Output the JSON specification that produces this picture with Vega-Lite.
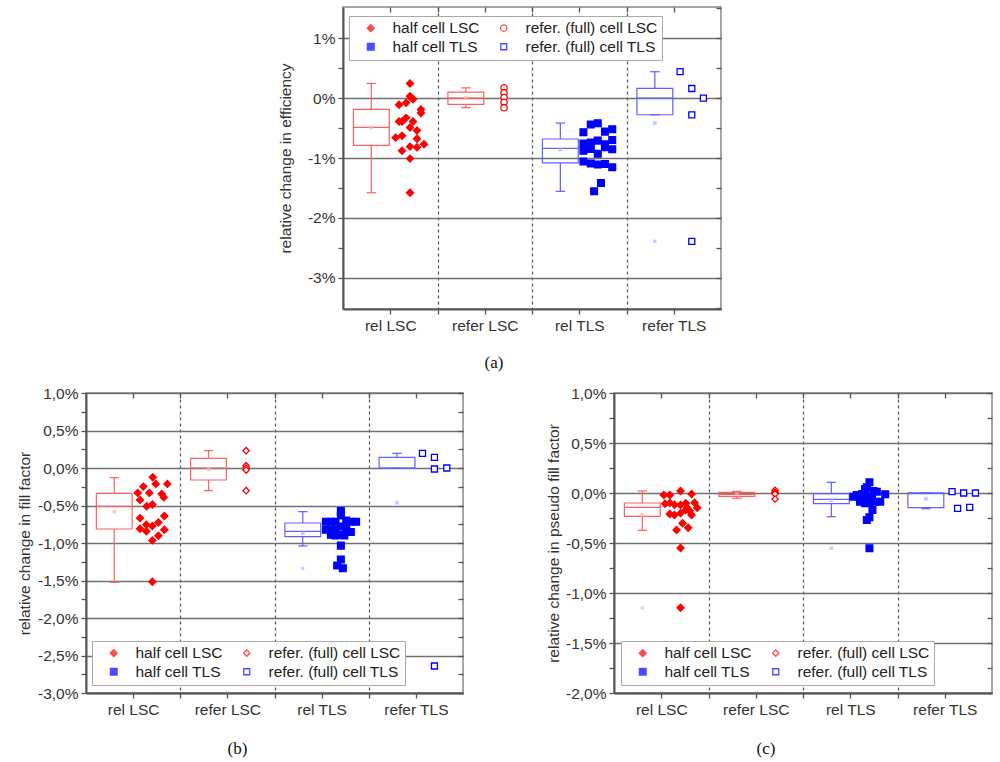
{
"$schema":"https://vega.github.io/schema/vega-lite/v6.json",
"background":"white",
"padding":{"left":16,"top":5,"right":5,"bottom":5},
"config":{
 "font":"Liberation Sans",
 "view":{"stroke":"#888","strokeWidth":1.5},
 "axis":{"labelFont":"Liberation Sans","labelFontSize":15.5,"labelColor":"#333","titleFont":"Liberation Sans","titleFontSize":15.5,"titleFontWeight":"normal","titleColor":"#333","domainColor":"#555","domainWidth":2,"tickColor":"#555","tickWidth":1.3,"gridColor":"#707070","gridWidth":1.3,"labelPadding":4,"tickSize":5,"labelOverlap":false,"labelFlush":false},
 "legend":{"labelFont":"Liberation Sans","labelFontSize":15.5,"labelColor":"#222","symbolSize":36,"symbolStrokeWidth":1.3,"strokeColor":"#aaa","fillColor":"white","padding":4,"columnPadding":6,"rowPadding":2,"labelOffset":14,"symbolOffset":10,"labelLimit":300},
 "title":{"font":"Liberation Serif","fontSize":17,"fontWeight":"normal","color":"#111"}
},
"datasets":{
"pts":[
{"p":"a","s":"hL","j":0.709,"v":0.244},{"p":"a","s":"hL","j":0.709,"v":0.03},{"p":"a","s":"hL","j":0.741,"v":-0.02},{"p":"a","s":"hL","j":0.72,"v":0.01},{"p":"a","s":"hL","j":0.593,"v":-0.11},{"p":"a","s":"hL","j":0.667,"v":-0.08},{"p":"a","s":"hL","j":0.825,"v":-0.19},{"p":"a","s":"hL","j":0.825,"v":-0.25},{"p":"a","s":"hL","j":0.593,"v":-0.39},{"p":"a","s":"hL","j":0.625,"v":-0.39},{"p":"a","s":"hL","j":0.667,"v":-0.33},{"p":"a","s":"hL","j":0.741,"v":-0.39},{"p":"a","s":"hL","j":0.709,"v":-0.49},{"p":"a","s":"hL","j":0.783,"v":-0.54},{"p":"a","s":"hL","j":0.557,"v":-0.66},{"p":"a","s":"hL","j":0.625,"v":-0.63},{"p":"a","s":"hL","j":0.783,"v":-0.68},{"p":"a","s":"hL","j":0.857,"v":-0.77},{"p":"a","s":"hL","j":0.625,"v":-0.88},{"p":"a","s":"hL","j":0.709,"v":-0.81},{"p":"a","s":"hL","j":0.783,"v":-0.82},{"p":"a","s":"hL","j":0.709,"v":-1.01},{"p":"a","s":"hL","j":0.709,"v":-1.58},
{"p":"a","s":"rL","j":0.704,"v":0.17},{"p":"a","s":"rL","j":0.704,"v":0.09},{"p":"a","s":"rL","j":0.704,"v":0.01},{"p":"a","s":"rL","j":0.704,"v":-0.07},{"p":"a","s":"rL","j":0.704,"v":-0.16},
{"p":"a","s":"hT","j":0.544,"v":-0.57},{"p":"a","s":"hT","j":0.622,"v":-0.44},{"p":"a","s":"hT","j":0.696,"v":-0.42},{"p":"a","s":"hT","j":0.772,"v":-0.56},{"p":"a","s":"hT","j":0.849,"v":-0.52},{"p":"a","s":"hT","j":0.544,"v":-0.76},{"p":"a","s":"hT","j":0.622,"v":-0.74},{"p":"a","s":"hT","j":0.696,"v":-0.71},{"p":"a","s":"hT","j":0.772,"v":-0.77},{"p":"a","s":"hT","j":0.772,"v":-0.82},{"p":"a","s":"hT","j":0.849,"v":-0.70},{"p":"a","s":"hT","j":0.544,"v":-0.88},{"p":"a","s":"hT","j":0.622,"v":-0.85},{"p":"a","s":"hT","j":0.696,"v":-0.93},{"p":"a","s":"hT","j":0.849,"v":-0.855},{"p":"a","s":"hT","j":0.544,"v":-1.06},{"p":"a","s":"hT","j":0.622,"v":-1.09},{"p":"a","s":"hT","j":0.696,"v":-1.11},{"p":"a","s":"hT","j":0.772,"v":-1.10},{"p":"a","s":"hT","j":0.849,"v":-1.156},{"p":"a","s":"hT","j":0.73,"v":-1.417},{"p":"a","s":"hT","j":0.657,"v":-1.556},
{"p":"a","s":"rT","j":0.567,"v":0.44},{"p":"a","s":"rT","j":0.691,"v":0.16},{"p":"a","s":"rT","j":0.814,"v":0.0},{"p":"a","s":"rT","j":0.691,"v":-0.28},{"p":"a","s":"rT","j":0.691,"v":-2.39},
{"p":"b","s":"hL","j":0.708,"v":-0.124},{"p":"b","s":"hL","j":0.608,"v":-0.248},{"p":"b","s":"hL","j":0.549,"v":-0.332},{"p":"b","s":"hL","j":0.573,"v":-0.425},{"p":"b","s":"hL","j":0.672,"v":-0.332},{"p":"b","s":"hL","j":0.74,"v":-0.212},{"p":"b","s":"hL","j":0.863,"v":-0.212},{"p":"b","s":"hL","j":0.804,"v":-0.345},{"p":"b","s":"hL","j":0.825,"v":-0.39},{"p":"b","s":"hL","j":0.644,"v":-0.511},{"p":"b","s":"hL","j":0.704,"v":-0.487},{"p":"b","s":"hL","j":0.831,"v":-0.64},{"p":"b","s":"hL","j":0.573,"v":-0.668},{"p":"b","s":"hL","j":0.64,"v":-0.757},{"p":"b","s":"hL","j":0.704,"v":-0.774},{"p":"b","s":"hL","j":0.768,"v":-0.726},{"p":"b","s":"hL","j":0.573,"v":-0.81},{"p":"b","s":"hL","j":0.64,"v":-0.844},{"p":"b","s":"hL","j":0.768,"v":-0.903},{"p":"b","s":"hL","j":0.831,"v":-0.823},{"p":"b","s":"hL","j":0.704,"v":-0.965},{"p":"b","s":"hL","j":0.704,"v":-1.517},
{"p":"b","s":"rL","j":0.699,"v":0.231},{"p":"b","s":"rL","j":0.699,"v":0.031},{"p":"b","s":"rL","j":0.699,"v":0.0},{"p":"b","s":"rL","j":0.699,"v":-0.027},{"p":"b","s":"rL","j":0.699,"v":-0.302},
{"p":"b","s":"hT","j":0.704,"v":-0.575},{"p":"b","s":"hT","j":0.704,"v":-0.633},{"p":"b","s":"hT","j":0.545,"v":-0.717},{"p":"b","s":"hT","j":0.598,"v":-0.717},{"p":"b","s":"hT","j":0.647,"v":-0.717},{"p":"b","s":"hT","j":0.761,"v":-0.70},{"p":"b","s":"hT","j":0.81,"v":-0.717},{"p":"b","s":"hT","j":0.866,"v":-0.717},{"p":"b","s":"hT","j":0.704,"v":-0.779},{"p":"b","s":"hT","j":0.545,"v":-0.823},{"p":"b","s":"hT","j":0.598,"v":-0.823},{"p":"b","s":"hT","j":0.647,"v":-0.823},{"p":"b","s":"hT","j":0.761,"v":-0.80},{"p":"b","s":"hT","j":0.81,"v":-0.854},{"p":"b","s":"hT","j":0.598,"v":-0.89},{"p":"b","s":"hT","j":0.647,"v":-0.9},{"p":"b","s":"hT","j":0.704,"v":-0.89},{"p":"b","s":"hT","j":0.74,"v":-0.9},{"p":"b","s":"hT","j":0.704,"v":-1.035},{"p":"b","s":"hT","j":0.704,"v":-1.22},{"p":"b","s":"hT","j":0.665,"v":-1.3},{"p":"b","s":"hT","j":0.725,"v":-1.336},
{"p":"b","s":"rT","j":0.57,"v":0.196},{"p":"b","s":"rT","j":0.697,"v":0.142},{"p":"b","s":"rT","j":0.697,"v":-0.013},{"p":"b","s":"rT","j":0.828,"v":0.0},{"p":"b","s":"rT","j":0.697,"v":-2.64},
{"p":"c","s":"hL","j":0.704,"v":0.02},{"p":"c","s":"hL","j":0.527,"v":-0.02},{"p":"c","s":"hL","j":0.591,"v":-0.02},{"p":"c","s":"hL","j":0.821,"v":-0.01},{"p":"c","s":"hL","j":0.541,"v":-0.107},{"p":"c","s":"hL","j":0.591,"v":-0.10},{"p":"c","s":"hL","j":0.64,"v":-0.117},{"p":"c","s":"hL","j":0.704,"v":-0.12},{"p":"c","s":"hL","j":0.76,"v":-0.103},{"p":"c","s":"hL","j":0.853,"v":-0.097},{"p":"c","s":"hL","j":0.88,"v":-0.147},{"p":"c","s":"hL","j":0.80,"v":-0.177},{"p":"c","s":"hL","j":0.591,"v":-0.21},{"p":"c","s":"hL","j":0.64,"v":-0.22},{"p":"c","s":"hL","j":0.704,"v":-0.203},{"p":"c","s":"hL","j":0.76,"v":-0.17},{"p":"c","s":"hL","j":0.774,"v":-0.147},{"p":"c","s":"hL","j":0.821,"v":-0.22},{"p":"c","s":"hL","j":0.725,"v":-0.303},{"p":"c","s":"hL","j":0.662,"v":-0.37},{"p":"c","s":"hL","j":0.785,"v":-0.347},{"p":"c","s":"hL","j":0.704,"v":-0.55},{"p":"c","s":"hL","j":0.704,"v":-1.147},
{"p":"c","s":"rL","j":0.704,"v":0.027},{"p":"c","s":"rL","j":0.704,"v":0.01},{"p":"c","s":"rL","j":0.704,"v":0.0},{"p":"c","s":"rL","j":0.704,"v":-0.01},{"p":"c","s":"rL","j":0.704,"v":-0.06},
{"p":"c","s":"hT","j":0.703,"v":0.107},{"p":"c","s":"hT","j":0.675,"v":0.057},{"p":"c","s":"hT","j":0.657,"v":0.04},{"p":"c","s":"hT","j":0.745,"v":0.02},{"p":"c","s":"hT","j":0.781,"v":0.013},{"p":"c","s":"hT","j":0.626,"v":-0.01},{"p":"c","s":"hT","j":0.533,"v":-0.037},{"p":"c","s":"hT","j":0.569,"v":-0.02},{"p":"c","s":"hT","j":0.675,"v":-0.037},{"p":"c","s":"hT","j":0.729,"v":-0.043},{"p":"c","s":"hT","j":0.87,"v":-0.013},{"p":"c","s":"hT","j":0.604,"v":-0.087},{"p":"c","s":"hT","j":0.657,"v":-0.103},{"p":"c","s":"hT","j":0.703,"v":-0.097},{"p":"c","s":"hT","j":0.764,"v":-0.087},{"p":"c","s":"hT","j":0.817,"v":-0.087},{"p":"c","s":"hT","j":0.735,"v":-0.17},{"p":"c","s":"hT","j":0.703,"v":-0.243},{"p":"c","s":"hT","j":0.675,"v":-0.27},{"p":"c","s":"hT","j":0.703,"v":-0.553},
{"p":"c","s":"rT","j":0.577,"v":0.013},{"p":"c","s":"rT","j":0.7,"v":0.0},{"p":"c","s":"rT","j":0.825,"v":0.0},{"p":"c","s":"rT","j":0.636,"v":-0.153},{"p":"c","s":"rT","j":0.764,"v":-0.143}
],
"box":[
{"p":"a","s":"hL","q1":-0.79,"q3":-0.19,"md":-0.49,"lo":-1.58,"hi":0.244,"mn":-0.49},
{"p":"a","s":"rL","q1":-0.105,"q3":0.10,"md":0,"lo":-0.16,"hi":0.17,"mn":0},
{"p":"a","s":"hT","q1":-1.083,"q3":-0.683,"md":-0.84,"lo":-1.556,"hi":-0.417,"mn":-0.86},
{"p":"a","s":"rT","q1":-0.278,"q3":0.161,"md":0,"lo":-0.278,"hi":0.44,"mn":-0.417,"xt":-2.39},
{"p":"b","s":"hL","q1":-0.813,"q3":-0.338,"md":-0.511,"lo":-1.524,"hi":-0.129,"mn":-0.582},
{"p":"b","s":"rL","q1":-0.16,"q3":0.129,"md":0,"lo":-0.302,"hi":0.231,"mn":-0.02},
{"p":"b","s":"hT","q1":-0.916,"q3":-0.733,"md":-0.844,"lo":-1.04,"hi":-0.582,"mn":-0.87,"xt":-1.338},
{"p":"b","s":"rT","q1":-0.004,"q3":0.142,"md":0,"lo":-0.004,"hi":0.196,"mn":-0.462},
{"p":"c","s":"hL","q1":-0.233,"q3":-0.10,"md":-0.143,"lo":-0.373,"hi":0.02,"mn":-0.217,"xt":-1.147},
{"p":"c","s":"rL","q1":-0.033,"q3":0.007,"md":-0.013,"lo":-0.053,"hi":0.017,"mn":-0.013},
{"p":"c","s":"hT","q1":-0.107,"q3":-0.007,"md":-0.063,"lo":-0.237,"hi":0.107,"mn":-0.07,"xt":-0.553},
{"p":"c","s":"rT","q1":-0.147,"q3":0.0,"md":0.0,"lo":-0.157,"hi":0.003,"mn":-0.057}
]
},
"vconcat":[
{"hconcat":[
 {"width":257,"height":302,"view":{"stroke":null},"data":{"values":[]},"mark":"point","encoding":{}},
 {"width":378,"height":302,
  "title":{"text":"(a)","orient":"bottom","anchor":"middle","dx":-38,"offset":21},
  "data":{"name":"box"},
  "transform":[{"filter":"datum.p==='a'"},{"calculate":"indexof(['hL','rL','hT','rT'], datum.s)","as":"c"},{"calculate":"datum.c+0.11","as":"bx1"},{"calculate":"datum.c+0.49","as":"bx2"},{"calculate":"datum.c+0.3","as":"bxm"},{"calculate":"datum.c+0.25","as":"cx1"},{"calculate":"datum.c+0.35","as":"cx2"},{"calculate":"datum.c<2 ? '#ff6060' : '#6060ff'","as":"bc"},{"calculate":"datum.c<2 ? '#ffb0b0' : '#b0b0ff'","as":"fc"}],
  "resolve":{"axis":{"x":"independent","y":"independent"}},
  "layer":[
   {"mark":{"type":"rect","fillOpacity":0,"strokeWidth":1.2},
    "encoding":{
     "x":{"field":"bx1","type":"quantitative","title":null,"scale":{"domain":[0,4],"nice":false,"zero":false},"axis":{"orient":"bottom","values":[0.5,1,1.5,2,2.5,3,3.5],"labelExpr":"datum.value % 1 === 0.5 ? ['rel LSC','refer LSC','rel TLS','refer TLS'][floor(datum.value)] : ''","grid":true,"gridDash":[3,3],"gridColor":"#555","gridWidth":1.2,"gridOpacity":{"condition":{"test":"datum.value % 1 === 0.5","value":0},"value":1}}},
     "x2":{"field":"bx2"},
     "y":{"field":"q1","type":"quantitative","title":"relative change in efficiency","scale":{"domain":[-3.52,1.52],"nice":false,"zero":false},"axis":{"orient":"left","values":[-3,-2.5,-2,-1.5,-1,-0.5,0,0.5,1],"labelExpr":"abs(datum.value % 1) > 1e-6 ? '' : (datum.value < 0 ? '-' : '') + format(abs(datum.value),'d') + '%'","grid":true,"gridOpacity":{"condition":{"test":"abs(datum.value % 1) > 1e-6","value":0},"value":1},"labelPadding":3,"titleX":-50,"titleY":151,"titleAngle":270,"titleBaseline":"bottom","titleAlign":"center"}},
     "y2":{"field":"q3"},
     "stroke":{"field":"bc","type":"nominal","scale":null}}},
   {"mark":{"type":"rule","strokeWidth":1.2},"encoding":{"x":{"field":"bxm","type":"quantitative","axis":null},"y":{"field":"lo","type":"quantitative","axis":null},"y2":{"field":"q1"},"stroke":{"field":"bc","type":"nominal","scale":null}}},
   {"mark":{"type":"rule","strokeWidth":1.2},"encoding":{"x":{"field":"bxm","type":"quantitative","axis":null},"y":{"field":"q3","type":"quantitative","axis":null},"y2":{"field":"hi"},"stroke":{"field":"bc","type":"nominal","scale":null}}},
   {"mark":{"type":"rule","strokeWidth":1.2},"encoding":{"x":{"field":"bx1","type":"quantitative","axis":{"orient":"top","title":null,"labels":false,"grid":false,"domain":false,"values":[0.5,1,1.5,2,2.5,3,3.5],"tickSize":-5}},"x2":{"field":"bx2"},"y":{"field":"md","type":"quantitative","axis":null},"stroke":{"field":"bc","type":"nominal","scale":null}}},
   {"mark":{"type":"rule","strokeWidth":1.2},"encoding":{"x":{"field":"cx1","type":"quantitative","axis":null},"x2":{"field":"cx2"},"y":{"field":"lo","type":"quantitative","axis":null},"stroke":{"field":"bc","type":"nominal","scale":null}}},
   {"mark":{"type":"rule","strokeWidth":1.2},"encoding":{"x":{"field":"cx1","type":"quantitative","axis":null},"x2":{"field":"cx2"},"y":{"field":"hi","type":"quantitative","axis":null},"stroke":{"field":"bc","type":"nominal","scale":null}}},
   {"mark":{"type":"point","shape":"square","filled":true,"size":14},"encoding":{"x":{"field":"bxm","type":"quantitative","axis":null},"y":{"field":"mn","type":"quantitative","axis":{"orient":"right","title":null,"labels":false,"grid":false,"domain":false,"values":[-3.5,-3,-2.5,-2,-1.5,-1,-0.5,0,0.5,1,1.5],"tickSize":-5}},"fill":{"field":"fc","type":"nominal","scale":null}}},
   {"transform":[{"filter":"isValid(datum.xt)"}],"mark":{"type":"point","shape":"cross","angle":45,"filled":true,"size":16},"encoding":{"x":{"field":"bxm","type":"quantitative","axis":null},"y":{"field":"xt","type":"quantitative","axis":null},"fill":{"field":"fc","type":"nominal","scale":null}}},
   {"data":{"name":"pts"},
    "transform":[{"filter":"datum.p==='a'"},{"calculate":"indexof(['hL','rL','hT','rT'], datum.s)+datum.j","as":"x"},{"calculate":"['half cell LSC','refer. (full) cell LSC','half cell TLS','refer. (full) cell TLS'][indexof(['hL','rL','hT','rT'], datum.s)]","as":"series"}],
    "mark":{"type":"point","strokeWidth":1.3,"opacity":1},
    "encoding":{
     "x":{"field":"x","type":"quantitative","axis":null},
     "y":{"field":"v","type":"quantitative","axis":null},
     "color":{"field":"series","type":"nominal","scale":{"domain":["half cell LSC","half cell TLS","refer. (full) cell LSC","refer. (full) cell TLS"],"range":["#ff0000","#0000ff","#ff0000","#0000ff"]},"legend":{"orient":"none","legendX":6,"legendY":9,"columns":2,"title":null}},
     "fill":{"field":"series","type":"nominal","scale":{"domain":["half cell LSC","half cell TLS","refer. (full) cell LSC","refer. (full) cell TLS"],"range":["#ff0000","#0000ff","#ffffff","#ffffff"]}},
     "shape":{"field":"series","type":"nominal","scale":{"domain":["half cell LSC","half cell TLS","refer. (full) cell LSC","refer. (full) cell TLS"],"range":["diamond","square","circle","square"]}},
     "size":{"field":"series","type":"ordinal","scale":{"domain":["half cell LSC","half cell TLS","refer. (full) cell LSC","refer. (full) cell TLS"],"range":[50,36,28,28]},"legend":null}}}
  ]}
 ],"spacing":0,"bounds":"flush",
 "resolve":{"scale":{"color":"independent","fill":"independent","shape":"independent","size":"independent"},"legend":{"color":"independent","fill":"independent","shape":"independent","size":"independent"}}},
{"hconcat":[
 {"width":377,"height":300,
  "title":{"text":"(b)","orient":"bottom","anchor":"middle","dx":-37,"offset":23},
  "data":{"name":"box"},
  "transform":[{"filter":"datum.p==='b'"},{"calculate":"indexof(['hL','rL','hT','rT'], datum.s)","as":"c"},{"calculate":"datum.c+0.11","as":"bx1"},{"calculate":"datum.c+0.49","as":"bx2"},{"calculate":"datum.c+0.3","as":"bxm"},{"calculate":"datum.c+0.25","as":"cx1"},{"calculate":"datum.c+0.35","as":"cx2"},{"calculate":"datum.c<2 ? '#ff6060' : '#6060ff'","as":"bc"},{"calculate":"datum.c<2 ? '#ffb0b0' : '#b0b0ff'","as":"fc"}],
  "resolve":{"axis":{"x":"independent","y":"independent"}},
  "layer":[
   {"mark":{"type":"rect","fillOpacity":0,"strokeWidth":1.2},
    "encoding":{
     "x":{"field":"bx1","type":"quantitative","title":null,"scale":{"domain":[0,4],"nice":false,"zero":false},"axis":{"orient":"bottom","values":[0.5,1,1.5,2,2.5,3,3.5],"labelExpr":"datum.value % 1 === 0.5 ? ['rel LSC','refer LSC','rel TLS','refer TLS'][floor(datum.value)] : ''","grid":true,"gridDash":[3,3],"gridColor":"#555","gridWidth":1.2,"gridOpacity":{"condition":{"test":"datum.value % 1 === 0.5","value":0},"value":1}}},
     "x2":{"field":"bx2"},
     "y":{"field":"q1","type":"quantitative","title":"relative change in fill factor","scale":{"domain":[-3,1],"nice":false,"zero":false},"axis":{"orient":"left","values":[-3,-2.75,-2.5,-2.25,-2,-1.75,-1.5,-1.25,-1,-0.75,-0.5,-0.25,0,0.25,0.5,0.75,1],"labelExpr":"abs(datum.value % 0.5) > 1e-6 ? '' : (datum.value < 0 ? '-' : '') + replace(format(abs(datum.value),'.1f'),'.',',') + '%'","grid":true,"gridOpacity":{"condition":{"test":"abs(datum.value % 0.5) > 1e-6","value":0},"value":1},"labelPadding":3,"titleX":-54,"titleY":150,"titleAngle":270,"titleBaseline":"bottom","titleAlign":"center"}},
     "y2":{"field":"q3"},
     "stroke":{"field":"bc","type":"nominal","scale":null}}},
   {"mark":{"type":"rule","strokeWidth":1.2},"encoding":{"x":{"field":"bxm","type":"quantitative","axis":null},"y":{"field":"lo","type":"quantitative","axis":null},"y2":{"field":"q1"},"stroke":{"field":"bc","type":"nominal","scale":null}}},
   {"mark":{"type":"rule","strokeWidth":1.2},"encoding":{"x":{"field":"bxm","type":"quantitative","axis":null},"y":{"field":"q3","type":"quantitative","axis":null},"y2":{"field":"hi"},"stroke":{"field":"bc","type":"nominal","scale":null}}},
   {"mark":{"type":"rule","strokeWidth":1.2},"encoding":{"x":{"field":"bx1","type":"quantitative","axis":{"orient":"top","title":null,"labels":false,"grid":false,"domain":false,"values":[0.5,1,1.5,2,2.5,3,3.5],"tickSize":-5}},"x2":{"field":"bx2"},"y":{"field":"md","type":"quantitative","axis":null},"stroke":{"field":"bc","type":"nominal","scale":null}}},
   {"mark":{"type":"rule","strokeWidth":1.2},"encoding":{"x":{"field":"cx1","type":"quantitative","axis":null},"x2":{"field":"cx2"},"y":{"field":"lo","type":"quantitative","axis":null},"stroke":{"field":"bc","type":"nominal","scale":null}}},
   {"mark":{"type":"rule","strokeWidth":1.2},"encoding":{"x":{"field":"cx1","type":"quantitative","axis":null},"x2":{"field":"cx2"},"y":{"field":"hi","type":"quantitative","axis":null},"stroke":{"field":"bc","type":"nominal","scale":null}}},
   {"mark":{"type":"point","shape":"square","filled":true,"size":14},"encoding":{"x":{"field":"bxm","type":"quantitative","axis":null},"y":{"field":"mn","type":"quantitative","axis":{"orient":"right","title":null,"labels":false,"grid":false,"domain":false,"values":[-3,-2.75,-2.5,-2.25,-2,-1.75,-1.5,-1.25,-1,-0.75,-0.5,-0.25,0,0.25,0.5,0.75,1],"tickSize":-5}},"fill":{"field":"fc","type":"nominal","scale":null}}},
   {"transform":[{"filter":"isValid(datum.xt)"}],"mark":{"type":"point","shape":"cross","angle":45,"filled":true,"size":16},"encoding":{"x":{"field":"bxm","type":"quantitative","axis":null},"y":{"field":"xt","type":"quantitative","axis":null},"fill":{"field":"fc","type":"nominal","scale":null}}},
   {"data":{"name":"pts"},
    "transform":[{"filter":"datum.p==='b'"},{"calculate":"indexof(['hL','rL','hT','rT'], datum.s)+datum.j","as":"x"},{"calculate":"['half cell LSC','refer. (full) cell LSC','half cell TLS','refer. (full) cell TLS'][indexof(['hL','rL','hT','rT'], datum.s)]","as":"series"}],
    "mark":{"type":"point","strokeWidth":1.3,"opacity":1},
    "encoding":{
     "x":{"field":"x","type":"quantitative","axis":null},
     "y":{"field":"v","type":"quantitative","axis":null},
     "color":{"field":"series","type":"nominal","scale":{"domain":["half cell LSC","half cell TLS","refer. (full) cell LSC","refer. (full) cell TLS"],"range":["#ff0000","#0000ff","#ff0000","#0000ff"]},"legend":{"orient":"none","legendX":6,"legendY":248,"columns":2,"title":null}},
     "fill":{"field":"series","type":"nominal","scale":{"domain":["half cell LSC","half cell TLS","refer. (full) cell LSC","refer. (full) cell TLS"],"range":["#ff0000","#0000ff","#ffffff","#ffffff"]}},
     "shape":{"field":"series","type":"nominal","scale":{"domain":["half cell LSC","half cell TLS","refer. (full) cell LSC","refer. (full) cell TLS"],"range":["diamond","square","diamond","square"]}},
     "size":{"field":"series","type":"ordinal","scale":{"domain":["half cell LSC","half cell TLS","refer. (full) cell LSC","refer. (full) cell TLS"],"range":[50,36,28,28]},"legend":null}}}
  ]},
 {"width":378,"height":300,
  "title":{"text":"(c)","orient":"bottom","anchor":"middle","dx":-37,"offset":23},
  "data":{"name":"box"},
  "transform":[{"filter":"datum.p==='c'"},{"calculate":"indexof(['hL','rL','hT','rT'], datum.s)","as":"c"},{"calculate":"datum.c+0.11","as":"bx1"},{"calculate":"datum.c+0.49","as":"bx2"},{"calculate":"datum.c+0.3","as":"bxm"},{"calculate":"datum.c+0.25","as":"cx1"},{"calculate":"datum.c+0.35","as":"cx2"},{"calculate":"datum.c<2 ? '#ff6060' : '#6060ff'","as":"bc"},{"calculate":"datum.c<2 ? '#ffb0b0' : '#b0b0ff'","as":"fc"}],
  "resolve":{"axis":{"x":"independent","y":"independent"}},
  "layer":[
   {"mark":{"type":"rect","fillOpacity":0,"strokeWidth":1.2},
    "encoding":{
     "x":{"field":"bx1","type":"quantitative","title":null,"scale":{"domain":[0,4],"nice":false,"zero":false},"axis":{"orient":"bottom","values":[0.5,1,1.5,2,2.5,3,3.5],"labelExpr":"datum.value % 1 === 0.5 ? ['rel LSC','refer LSC','rel TLS','refer TLS'][floor(datum.value)] : ''","grid":true,"gridDash":[3,3],"gridColor":"#555","gridWidth":1.2,"gridOpacity":{"condition":{"test":"datum.value % 1 === 0.5","value":0},"value":1}}},
     "x2":{"field":"bx2"},
     "y":{"field":"q1","type":"quantitative","title":"relative change in pseudo fill factor","scale":{"domain":[-2,1],"nice":false,"zero":false},"axis":{"orient":"left","values":[-2,-1.75,-1.5,-1.25,-1,-0.75,-0.5,-0.25,0,0.25,0.5,0.75,1],"labelExpr":"abs(datum.value % 0.5) > 1e-6 ? '' : (datum.value < 0 ? '-' : '') + replace(format(abs(datum.value),'.1f'),'.',',') + '%'","grid":true,"gridOpacity":{"condition":{"test":"abs(datum.value % 0.5) > 1e-6","value":0},"value":1},"labelPadding":3,"titleX":-53,"titleY":150,"titleAngle":270,"titleBaseline":"bottom","titleAlign":"center"}},
     "y2":{"field":"q3"},
     "stroke":{"field":"bc","type":"nominal","scale":null}}},
   {"mark":{"type":"rule","strokeWidth":1.2},"encoding":{"x":{"field":"bxm","type":"quantitative","axis":null},"y":{"field":"lo","type":"quantitative","axis":null},"y2":{"field":"q1"},"stroke":{"field":"bc","type":"nominal","scale":null}}},
   {"mark":{"type":"rule","strokeWidth":1.2},"encoding":{"x":{"field":"bxm","type":"quantitative","axis":null},"y":{"field":"q3","type":"quantitative","axis":null},"y2":{"field":"hi"},"stroke":{"field":"bc","type":"nominal","scale":null}}},
   {"mark":{"type":"rule","strokeWidth":1.2},"encoding":{"x":{"field":"bx1","type":"quantitative","axis":{"orient":"top","title":null,"labels":false,"grid":false,"domain":false,"values":[0.5,1,1.5,2,2.5,3,3.5],"tickSize":-5}},"x2":{"field":"bx2"},"y":{"field":"md","type":"quantitative","axis":null},"stroke":{"field":"bc","type":"nominal","scale":null}}},
   {"mark":{"type":"rule","strokeWidth":1.2},"encoding":{"x":{"field":"cx1","type":"quantitative","axis":null},"x2":{"field":"cx2"},"y":{"field":"lo","type":"quantitative","axis":null},"stroke":{"field":"bc","type":"nominal","scale":null}}},
   {"mark":{"type":"rule","strokeWidth":1.2},"encoding":{"x":{"field":"cx1","type":"quantitative","axis":null},"x2":{"field":"cx2"},"y":{"field":"hi","type":"quantitative","axis":null},"stroke":{"field":"bc","type":"nominal","scale":null}}},
   {"mark":{"type":"point","shape":"square","filled":true,"size":14},"encoding":{"x":{"field":"bxm","type":"quantitative","axis":null},"y":{"field":"mn","type":"quantitative","axis":{"orient":"right","title":null,"labels":false,"grid":false,"domain":false,"values":[-2,-1.75,-1.5,-1.25,-1,-0.75,-0.5,-0.25,0,0.25,0.5,0.75,1],"tickSize":-5}},"fill":{"field":"fc","type":"nominal","scale":null}}},
   {"transform":[{"filter":"isValid(datum.xt)"}],"mark":{"type":"point","shape":"cross","angle":45,"filled":true,"size":16},"encoding":{"x":{"field":"bxm","type":"quantitative","axis":null},"y":{"field":"xt","type":"quantitative","axis":null},"fill":{"field":"fc","type":"nominal","scale":null}}},
   {"data":{"name":"pts"},
    "transform":[{"filter":"datum.p==='c'"},{"calculate":"indexof(['hL','rL','hT','rT'], datum.s)+datum.j","as":"x"},{"calculate":"['half cell LSC','refer. (full) cell LSC','half cell TLS','refer. (full) cell TLS'][indexof(['hL','rL','hT','rT'], datum.s)]","as":"series"}],
    "mark":{"type":"point","strokeWidth":1.3,"opacity":1},
    "encoding":{
     "x":{"field":"x","type":"quantitative","axis":null},
     "y":{"field":"v","type":"quantitative","axis":null},
     "color":{"field":"series","type":"nominal","scale":{"domain":["half cell LSC","half cell TLS","refer. (full) cell LSC","refer. (full) cell TLS"],"range":["#ff0000","#0000ff","#ff0000","#0000ff"]},"legend":{"orient":"none","legendX":7,"legendY":248,"columns":2,"title":null}},
     "fill":{"field":"series","type":"nominal","scale":{"domain":["half cell LSC","half cell TLS","refer. (full) cell LSC","refer. (full) cell TLS"],"range":["#ff0000","#0000ff","#ffffff","#ffffff"]}},
     "shape":{"field":"series","type":"nominal","scale":{"domain":["half cell LSC","half cell TLS","refer. (full) cell LSC","refer. (full) cell TLS"],"range":["diamond","square","diamond","square"]}},
     "size":{"field":"series","type":"ordinal","scale":{"domain":["half cell LSC","half cell TLS","refer. (full) cell LSC","refer. (full) cell TLS"],"range":[50,36,28,28]},"legend":null}}}
  ]}
 ],"spacing":151,"bounds":"flush",
 "resolve":{"scale":{"color":"independent","fill":"independent","shape":"independent","size":"independent"},"legend":{"color":"independent","fill":"independent","shape":"independent","size":"independent"}}}
],
"spacing":13,
"resolve":{"scale":{"color":"independent","fill":"independent","shape":"independent","size":"independent"},"legend":{"color":"independent","fill":"independent","shape":"independent","size":"independent"}}
}
